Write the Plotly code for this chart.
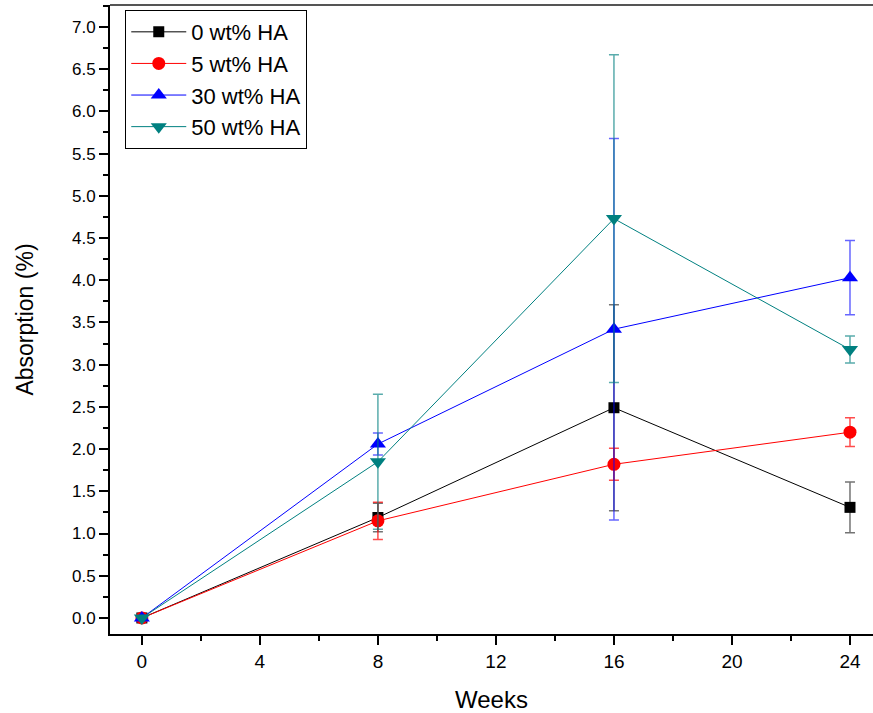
import plotly.graph_objects as go

weeks = [0, 8, 16, 24]
names = ["0 wt% HA", "5 wt% HA", "30 wt% HA", "50 wt% HA"]
ha0 = [0.0, 1.19, 2.49, 1.31]
ha0_err = [0.0, 0.17, 1.22, 0.30]
ha5 = [0.0, 1.15, 1.82, 2.20]
ha5_err = [0.0, 0.22, 0.19, 0.17]
ha30 = [0.0, 2.06, 3.42, 4.03]
ha30_err = [0.0, 0.13, 2.26, 0.44]
ha50 = [0.0, 1.85, 4.73, 3.18]
ha50_err = [0.0, 0.80, 1.94, 0.16]

series = [
    (names[0], ha0, ha0_err, "#000000", "rgba(0,0,0,0.55)", "square", 11),
    (names[1], ha5, ha5_err, "#ff0000", "rgba(255,0,0,0.7)", "circle", 13),
    (names[2], ha30, ha30_err, "#0000ff", "rgba(0,0,255,0.6)", "triangle-up", 14),
    (names[3], ha50, ha50_err, "#008080", "rgba(0,128,128,0.65)", "triangle-down", 14),
]

fig = go.Figure()
for name, y, err, col, ecol, sym, sz in series:
    fig.add_trace(go.Scatter(
        x=weeks, y=y, name=name, mode="lines+markers",
        line=dict(color=col, width=1),
        marker=dict(symbol=sym, size=sz, color=col, line=dict(width=0)),
        error_y=dict(type="data", array=err, visible=True, color=ecol,
                     thickness=1.5, width=5),
    ))

fig.update_layout(
    width=873, height=713,
    margin=dict(l=110, r=0, t=5, b=79),
    paper_bgcolor="white", plot_bgcolor="white",
    font=dict(family="Liberation Sans, Arial", color="#000"),
    showlegend=True,
    legend=dict(x=0.02, y=0.992, xanchor="left", yanchor="top",
                bordercolor="#000", borderwidth=1, bgcolor="white",
                font=dict(family="Liberation Sans, Arial", size=22),
                tracegroupgap=0, itemwidth=55),
    xaxis=dict(
        range=[-1.08, 24.78], tickmode="array", tickvals=[0, 4, 8, 12, 16, 20, 24],
        ticks="outside", ticklen=9, tickwidth=2, tickcolor="#000",
        showline=True, linewidth=2, linecolor="#000", showgrid=False, zeroline=False,
        tickfont=dict(family="Liberation Sans, Arial", size=19, color="#000"),
        minor=dict(tickvals=[2, 6, 10, 14, 18, 22], ticks="outside", ticklen=5, tickwidth=2, tickcolor="#000"),
        title=dict(text="Weeks", font=dict(family="Liberation Sans, Arial", size=24), standoff=20),
    ),
    yaxis=dict(
        range=[-0.19, 7.26], tickmode="array",
        tickvals=[i * 0.5 for i in range(15)],
        ticktext=[f"{i * 0.5:.1f}" for i in range(15)],
        ticks="outside", ticklen=9, tickwidth=2, tickcolor="#000",
        showline=True, linewidth=2, linecolor="#000", showgrid=False, zeroline=False,
        tickfont=dict(family="Liberation Sans, Arial", size=17, color="#000"),
        minor=dict(tickvals=[0.25 + i * 0.5 for i in range(15)], ticks="outside", ticklen=5, tickwidth=2, tickcolor="#000"),
        title=dict(text="Absorption (%)", font=dict(family="Liberation Sans, Arial", size=23), standoff=32),
    ),
    shapes=[dict(type="line", xref="paper", yref="paper", x0=0, x1=1, y0=1, y1=1,
                 line=dict(color="#555", width=2))],
)

fig.write_html("out.html")
